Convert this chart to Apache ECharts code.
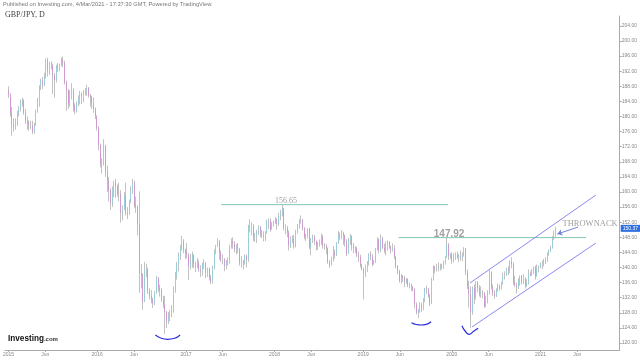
<!DOCTYPE html>
<html><head><meta charset="utf-8">
<script src="https://cdn.jsdelivr.net/npm/echarts@6/dist/echarts.min.js"></script>
<style>html,body{margin:0;padding:0;background:#fff}#c{width:640px;height:360px}</style>
</head><body><div id="c"></div>
<script>
// Weekly GBP/JPY candles (week closing Fridays, starting 2015-01-02)
const firstFriday = [2015, 0, 2];
const startOpen = 186.9;
const closes = [
185.8,180.8,178.0,177.2,178.4,180.5,182.2,183.6,184.2,181.0,178.9,178.5,177.6,177.6,176.0,177.8,181.5,184.5,188.0,189.6,188.3,190.5,195.0,192.0,193.5,193.5,191.0,189.5,193.3,193.0,193.6,195.0,194.2,189.0,186.8,183.2,186.5,187.0,182.8,181.5,183.8,184.8,186.0,185.5,186.3,186.8,187.6,185.5,185.0,183.5,182.0,180.0,
177.0,172.5,167.5,167.5,172.3,165.5,163.0,160.5,157.0,160.8,162.5,161.5,159.5,159.5,154.5,155.5,159.0,154.5,154.0,157.5,160.5,162.5,156.5,156.0,151.5,138.5,138.0,131.0,139.5,139.5,134.0,132.5,131.5,130.5,133.3,137.2,134.5,134.0,131.5,130.2,128.2,125.5,126.7,127.5,129.5,134.5,137.5,141.0,143.5,145.5,147.0,144.7,143.9,
143.4,140.2,141.5,143.4,141.0,141.3,141.2,139.4,139.0,141.0,141.1,138.6,139.7,137.2,136.2,139.5,144.3,145.5,147.0,144.0,142.2,142.2,140.5,141.5,141.7,145.3,146.9,146.4,144.7,145.4,145.0,141.2,141.5,141.3,143.1,142.1,151.0,150.9,150.9,148.0,148.3,149.5,150.8,149.0,148.6,148.3,149.3,152.3,152.5,150.0,151.4,152.2,
152.8,151.5,153.6,154.5,155.6,150.5,150.5,149.3,145.9,147.3,147.6,145.5,149.4,150.6,152.3,152.7,150.6,148.0,148.3,150.2,145.3,147.4,148.2,146.8,145.8,146.2,146.8,148.2,145.8,145.8,145.2,141.4,140.6,142.4,143.9,143.4,146.4,148.5,148.1,149.2,148.5,146.8,143.7,147.3,148.3,145.7,145.2,145.0,143.3,142.8,140.7,139.5,
138.4,140.0,141.4,143.5,142.8,141.0,141.4,144.8,147.4,144.5,147.7,145.2,144.5,146.1,146.8,145.5,144.5,145.1,142.9,140.4,139.1,136.4,137.7,137.2,136.1,136.9,135.2,135.3,135.0,134.3,130.3,128.0,128.8,130.0,129.5,131.5,134.4,134.2,132.5,130.5,136.8,140.2,139.6,139.7,140.3,140.4,140.1,141.4,142.7,146.0,142.9,143.3,
141.8,143.0,143.3,142.6,143.2,142.7,143.3,145.0,138.8,135.0,133.0,128.0,134.6,132.2,136.2,134.6,133.0,133.5,133.3,129.8,131.3,133.0,138.8,134.8,133.0,132.4,134.1,135.1,134.4,136.0,137.8,137.9,139.6,139.2,141.5,140.9,136.1,135.3,134.8,136.5,137.8,136.0,137.1,135.2,135.8,138.4,138.0,138.9,140.1,137.6,139.8,140.2,
141.1,141.2,141.5,142.1,143.6,144.4,145.3,147.6,149.0,150.37
];
const highs = [
188.0,186.2,182.5,179.5,179.5,181.5,182.8,184.5,185.0,184.6,182.0,180.0,179.0,178.9,178.9,178.3,181.8,185.0,188.3,190.0,190.5,191.6,195.4,195.6,194.5,194.6,194.0,191.5,193.7,194.2,194.0,195.6,195.9,194.8,189.5,187.3,187.0,188.8,187.5,183.5,184.0,185.6,186.8,186.4,187.0,187.5,188.4,187.8,186.0,185.5,185.0,182.4,
180.3,177.5,172.8,169.0,174.0,172.5,167.0,164.0,161.0,161.5,163.0,163.5,162.0,162.5,160.5,156.5,160.0,162.5,156.0,158.0,161.5,163.5,163.0,158.8,156.5,160.2,141.0,138.5,141.5,141.0,140.0,134.5,134.0,132.0,133.8,137.8,137.5,135.5,134.5,132.5,132.5,128.5,128.2,128.8,130.0,135.0,138.8,141.5,144.0,146.0,148.4,147.5,145.0,
146.5,143.8,143.6,144.2,143.5,141.6,142.5,142.0,140.6,141.3,142.2,141.5,140.0,140.0,138.0,140.5,144.8,146.0,147.7,147.3,144.5,143.5,142.5,142.0,142.7,146.0,147.7,148.0,147.0,146.2,146.5,145.2,143.0,142.0,143.5,143.5,151.3,152.8,152.0,151.5,149.2,150.0,151.2,151.0,150.0,149.6,149.6,152.7,153.0,153.0,152.0,152.5,
153.4,153.0,154.5,155.3,156.6,155.8,151.5,151.0,149.8,148.3,148.5,148.6,150.0,151.5,152.8,153.8,152.8,150.6,149.0,150.4,150.5,147.8,148.7,148.6,147.2,146.8,147.4,149.0,148.6,146.5,146.2,145.3,142.0,142.9,145.6,144.8,146.7,149.7,149.3,149.9,149.5,148.7,147.5,147.8,148.9,148.5,146.5,145.7,145.5,144.2,143.4,141.0,
140.0,140.8,141.7,143.8,144.3,143.5,142.0,145.2,148.0,147.7,148.8,148.2,146.3,146.9,147.2,147.0,145.8,146.4,145.9,143.0,140.6,139.4,138.3,138.0,137.8,137.2,137.1,136.0,135.8,135.0,134.5,130.8,129.0,130.8,130.7,131.9,134.6,135.2,134.6,133.0,137.3,140.6,140.4,141.0,141.3,141.0,141.0,141.8,143.0,148.0,146.5,143.8,
144.0,143.8,144.0,144.2,143.6,144.5,144.0,145.4,145.2,139.5,136.5,135.0,135.0,135.5,136.4,136.4,135.3,135.0,134.0,133.5,132.5,134.0,139.6,139.0,135.5,134.0,134.5,135.7,135.5,136.2,138.6,139.0,139.9,140.3,141.9,142.7,141.4,137.8,136.0,137.2,137.9,138.0,138.2,137.4,136.9,139.5,139.0,139.6,140.3,140.5,140.8,140.6,
141.3,141.8,142.3,142.7,144.0,144.8,145.8,148.3,149.8,150.8
];
const lows = [
184.9,180.0,174.9,176.0,176.5,177.5,180.0,181.3,182.6,180.5,178.0,176.5,176.2,176.6,175.3,175.4,177.5,181.0,182.6,187.0,187.3,188.0,190.0,190.6,191.0,192.5,186.0,185.0,189.0,191.8,192.0,193.3,193.0,188.5,181.5,182.0,182.6,184.5,181.3,180.6,181.0,182.7,183.2,183.3,183.8,185.6,185.4,185.0,182.6,182.0,181.0,179.3,
176.3,171.0,166.5,164.9,167.0,164.0,160.0,157.5,155.2,156.0,158.6,158.5,158.8,157.5,151.9,152.5,155.3,153.8,152.8,154.0,157.0,159.5,155.8,154.5,148.5,133.3,134.5,128.8,130.8,137.5,133.0,131.5,130.5,129.3,130.0,133.0,133.5,132.3,130.9,129.3,122.4,124.0,125.0,125.8,126.8,128.0,133.3,136.8,139.0,142.0,144.5,143.8,142.3,
142.4,136.7,139.5,140.0,139.8,138.8,139.8,138.9,137.5,137.8,139.6,137.2,137.5,136.6,135.6,135.8,139.5,143.5,145.5,142.0,141.5,140.8,139.0,139.5,140.5,141.0,145.0,145.0,144.0,143.5,143.8,140.5,140.0,139.5,140.7,140.0,141.5,149.3,148.5,147.0,146.8,146.5,148.6,148.0,147.8,146.9,147.0,149.0,150.2,149.5,150.0,150.8,
151.6,150.0,151.0,152.5,153.5,149.8,148.8,148.0,144.5,145.2,146.5,145.0,145.3,149.0,150.3,151.6,149.8,147.5,147.0,147.7,144.8,143.2,146.5,146.0,144.5,144.7,145.5,146.0,145.0,144.7,143.5,141.0,139.9,140.5,141.6,142.3,143.0,146.2,147.2,147.5,146.0,145.5,143.0,143.6,146.0,144.5,143.8,143.9,142.8,141.5,140.0,139.2,
131.5,137.5,138.8,140.5,141.9,140.3,140.7,141.2,144.5,143.7,144.0,144.9,143.8,143.2,144.5,145.0,143.7,144.2,142.2,139.8,138.2,136.0,135.7,136.2,134.8,135.6,134.8,134.5,133.8,133.7,129.2,127.6,126.6,128.0,128.2,128.7,130.8,133.0,132.0,129.8,130.3,136.5,138.5,139.0,139.0,139.2,139.5,139.7,140.8,142.6,142.0,142.3,
141.0,141.3,142.0,142.3,141.4,141.8,141.7,142.9,138.0,134.3,129.4,124.0,127.5,130.3,131.5,133.4,132.3,132.0,131.8,129.3,129.5,130.5,132.8,134.2,132.5,131.7,132.2,133.6,133.9,134.2,135.5,136.8,137.8,138.0,138.5,139.8,135.4,134.8,133.1,134.3,135.2,135.5,135.6,134.4,134.9,135.5,137.7,137.8,138.3,136.8,137.6,138.7,
139.8,139.6,140.3,140.9,141.5,143.1,144.1,145.0,147.3,147.8
];
const lastPrice = 150.37;

// Axis ticks
const yTicks = [120,124,128,132,136,140,144,148,152,156,160,164,168,172,176,180,184,188,192,196,200,204];
const xTicks = ['2015-01-01','2015-06-01','2016-01-01','2016-06-01','2017-01-01','2017-06-01','2018-01-01','2018-06-01',
  '2019-01-01','2019-06-01','2020-01-01','2020-06-01','2021-01-01','2021-06-01'];

// Drawn annotations (data space)
const resistance = {value: 156.65, from: '2017-05-26', to: '2019-12-17', labelAt: '2018-02-17', labelValue: 157.62};
const neckline = {value: 147.92, from: '2019-05-27', to: '2021-07-07', labelAt: '2019-12-21', labelValue: 148.87};
const channelUpper = [['2020-03-16', 135.89], ['2021-08-17', 159.21]];
const channelLower = [['2020-03-24', 124.24], ['2021-08-17', 146.49]];
const arc1 = [['2016-08-28',122.12],['2016-09-19',121.32],['2016-10-17',120.98],['2016-11-15',121.25],['2016-12-08',122.12]];
const arc2 = [['2019-07-19',125.38],['2019-08-08',124.90],['2019-08-29',124.77],['2019-09-18',124.95],['2019-10-08',125.64]];
const arc3 = [['2020-02-12',124.59],['2020-02-25',123.18],['2020-03-13',122.30],['2020-03-30',123.05],['2020-04-19',123.89]];
const arrowFrom = ['2021-06-05', 150.73];
const arrowTo = ['2021-03-11', 148.87];
const noteText = {text: 'THROWNACK', at: '2021-07-24', value: 151.52};

const T = s => { const p = s.split('-').map(Number); return Date.UTC(p[0], p[1]-1, p[2]); };
const weekTime = i => Date.UTC(firstFriday[0], firstFriday[1], firstFriday[2] + 7*i);
const opens = closes.map((c, i) => i === 0 ? startOpen : closes[i-1]);
const candles = closes.map((c, i) => [weekTime(i), opens[i], c, lows[i], highs[i]]);
const bodies = closes.map((c, i) => [weekTime(i), opens[i], c, Math.min(opens[i], c), Math.max(opens[i], c)]);
const pts = arr => arr.map(p => [T(p[0]), p[1]]);

const chart = echarts.init(document.getElementById('c'), null, {renderer: 'canvas'});
const yMin = 118.15, yMax = 206.62;
chart.setOption({
  animation: false,
  backgroundColor: '#ffffff',
  title: [
    {text: 'Published on Investing.com, 4/Mar/2021 - 17:37:30 GMT, Powered by TradingView.', left: 3, top: 1, padding: 0,
     textStyle: {fontSize: 5.7, color: '#777', fontWeight: 'normal', fontFamily: 'Liberation Sans'}},
    {text: 'GBP/JPY, D', left: 5, top: 11, padding: 0,
     textStyle: {fontSize: 8, color: '#444', fontWeight: 'normal', fontFamily: 'Liberation Serif'}},
    {text: '{a|Investing}{b|.com}', left: 8, top: 335, padding: 0,
     textStyle: {rich: {a: {fontSize: 8.2, fontWeight: 'bold', color: '#111', fontFamily: 'Liberation Sans'},
                        b: {fontSize: 6, color: '#333', fontFamily: 'Liberation Sans'}}}}
  ],
  grid: {left: 0, right: 20, top: 16, bottom: 10},
  xAxis: {
    type: 'value', min: T('2014-12-17'), max: T('2021-11-23'),
    splitLine: {show: false},
    axisLine: {lineStyle: {color: '#aaa', width: 1}},
    axisTick: {show: true, customValues: xTicks.map(T), length: 2, lineStyle: {color: '#aaa'}},
    axisLabel: {customValues: xTicks.map(T), fontSize: 5, color: '#888', margin: 2, hideOverlap: false,
      formatter: v => { const d = new Date(v); return d.getUTCMonth() === 0 ? String(d.getUTCFullYear()) : 'Jun'; }}
  },
  yAxis: {
    type: 'value', position: 'right', min: yMin, max: yMax,
    splitLine: {show: false},
    axisLine: {show: true, lineStyle: {color: '#aaa', width: 1}},
    axisTick: {show: true, customValues: yTicks, length: 2, lineStyle: {color: '#aaa'}},
    axisLabel: {customValues: yTicks, fontSize: 5, color: '#888', margin: 2, formatter: v => v.toFixed(2)}
  },
  series: [
    {type: 'candlestick', data: candles, barWidth: 1,
     itemStyle: {color: '#b0b0b0', color0: '#b0b0b0', borderColor: '#a8a8a8', borderColor0: '#a8a8a8', borderWidth: 0.7},
     markLine: {silent: true, symbol: ['none', 'none'], animation: false,
       data: [{yAxis: lastPrice}],
       lineStyle: {color: 'rgba(0,0,0,0)', width: 0},
       label: {position: 'end', formatter: lastPrice.toFixed(2), backgroundColor: '#2f6fe0', color: '#fff',
               fontSize: 5, padding: [1, 2], distance: 1}}},
    {type: 'candlestick', data: bodies, barWidth: 1,
     itemStyle: {color: '#72dcec', color0: '#e070e6', borderColor: '#72dcec', borderColor0: '#e070e6', borderWidth: 0.5}},
    {type: 'line', data: [[T(resistance.from), resistance.value], [T(resistance.to), resistance.value]],
     symbol: 'none', lineStyle: {color: '#80c6b6', width: 1}, z: 3},
    {type: 'line', data: [[T(neckline.from), neckline.value], [T(neckline.to), neckline.value]],
     symbol: 'none', lineStyle: {color: '#80c6b6', width: 1}, z: 3},
    {type: 'line', data: pts(channelUpper), symbol: 'none', lineStyle: {color: '#8a8af2', width: 1}, z: 3},
    {type: 'line', data: pts(channelLower), symbol: 'none', lineStyle: {color: '#8a8af2', width: 1}, z: 3},
    {type: 'line', data: pts(arc1), symbol: 'none', smooth: true, lineStyle: {color: '#2a2ae0', width: 1.2}, z: 3},
    {type: 'line', data: pts(arc2), symbol: 'none', smooth: true, lineStyle: {color: '#2a2ae0', width: 1.2}, z: 3},
    {type: 'line', data: pts(arc3), symbol: 'none', smooth: true, lineStyle: {color: '#2a2ae0', width: 1.2}, z: 3},
    {type: 'scatter', symbolSize: 1, itemStyle: {color: 'rgba(0,0,0,0)'}, z: 4,
     data: [
       {value: [T(resistance.labelAt), resistance.labelValue], label: {formatter: resistance.value.toFixed(2), fontFamily: 'Liberation Serif', fontSize: 8, color: '#888'}},
       {value: [T(neckline.labelAt), neckline.labelValue], label: {formatter: neckline.value.toFixed(2), fontFamily: 'Liberation Sans', fontWeight: 'bold', fontSize: 10, color: '#8a8a8a'}},
       {value: [T(noteText.at), noteText.value], label: {formatter: noteText.text, fontFamily: 'Liberation Serif', fontSize: 8.5, color: '#888'}}
     ],
     label: {show: true, position: 'inside'},
     markLine: {silent: true, symbol: ['none', 'arrow'], symbolSize: 5, animation: false,
       lineStyle: {color: '#6f85d8', width: 1, type: 'solid'}, label: {show: false},
       data: [[{coord: [T(arrowFrom[0]), arrowFrom[1]]}, {coord: [T(arrowTo[0]), arrowTo[1]]}]]}}
  ]
});
</script>
</body></html>
